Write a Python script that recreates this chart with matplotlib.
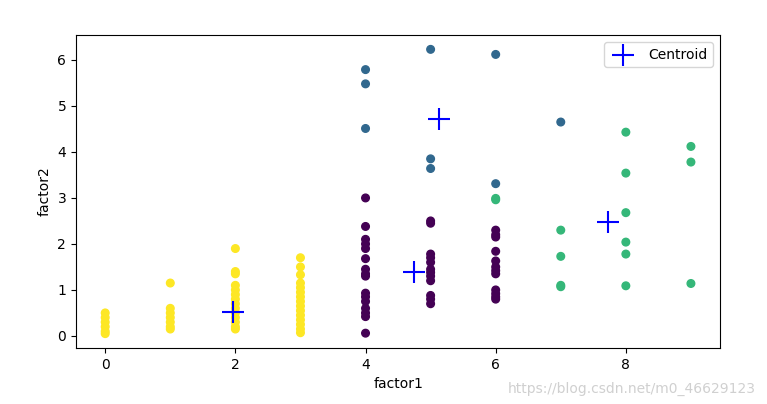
import matplotlib
matplotlib.use("Agg")
import matplotlib.pyplot as plt
import numpy as np

# cluster 0 (purple)
c0_x = [4]*16 + [5]*12 + [6]*12
c0_y = [3.0, 2.38, 2.1, 2.0, 1.9, 1.68, 1.45, 1.35, 1.3, 0.93, 0.85, 0.75, 0.6, 0.5, 0.42, 0.06,
        2.5, 2.45, 1.78, 1.7, 1.6, 1.45, 1.38, 1.3, 1.2, 0.88, 0.8, 0.7,
        2.3, 2.2, 2.15, 1.84, 1.63, 1.5, 1.42, 1.35, 1.0, 0.92, 0.85, 0.8]
# cluster 1 (blue)
c1_x = [4, 4, 4, 5, 5, 5, 6, 6, 7]
c1_y = [5.79, 5.48, 4.51, 6.23, 3.85, 3.64, 6.12, 3.31, 4.65]
# cluster 2 (green)
c2_x = [6, 6, 7, 7, 7, 7, 8, 8, 8, 8, 8, 8, 9, 9, 9]
c2_y = [2.99, 2.96, 2.30, 1.73, 1.10, 1.07, 4.43, 3.54, 2.68, 2.04, 1.78, 1.09, 4.12, 3.78, 1.14]
# cluster 3 (yellow)
c3_x = [0]*6 + [1]*7 + [2]*14 + [3]*15
c3_y = [0.5, 0.4, 0.3, 0.2, 0.1, 0.05,
        1.15, 0.6, 0.5, 0.4, 0.3, 0.2, 0.15,
        1.9, 1.4, 1.35, 1.1, 1.0, 0.9, 0.8, 0.7, 0.6, 0.5, 0.4, 0.3, 0.2, 0.15,
        1.7, 1.5, 1.33, 1.15, 1.05, 0.95, 0.85, 0.75, 0.65, 0.55, 0.45, 0.35, 0.25, 0.15, 0.07]

centroid_x = [4.75, 5.13, 7.72, 1.97]
centroid_y = [1.40, 4.72, 2.47, 0.51]

xs = np.array(c0_x + c1_x + c2_x + c3_x, dtype=float)
ys = np.array(c0_y + c1_y + c2_y + c3_y, dtype=float)
labels = np.array([0]*len(c0_x) + [1]*len(c1_x) + [2]*len(c2_x) + [3]*len(c3_x))

fig = plt.figure(figsize=(7.67, 4.04), dpi=100)
ax = fig.add_axes([0.099, 0.139, 0.840, 0.774])
ax.scatter(xs, ys, c=labels, cmap='viridis', s=30)
ax.scatter(centroid_x, centroid_y, marker='+', s=250, c='blue', linewidths=1.5, label='Centroid')
ax.set_xlabel('factor1')
ax.set_ylabel('factor2')
ax.legend(loc='upper right')
fig.text(0.985, 0.02, 'https://blog.csdn.net/m0_46629123', ha='right', va='bottom',
         fontsize=10, color='#d0d0d0')
fig.savefig('out.png', dpi=100)
